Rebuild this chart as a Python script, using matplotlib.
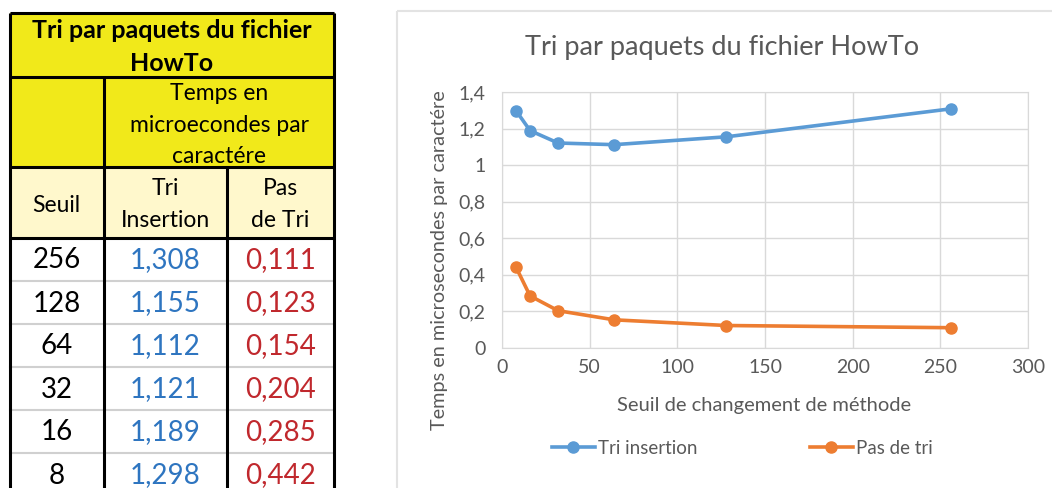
import matplotlib
matplotlib.use("Agg")
import matplotlib.pyplot as plt
from matplotlib.patches import Rectangle

plt.rcParams["font.family"] = ["Lato", "DejaVu Sans"]

# données du tableau (seuil, temps en µs par caractère)
seuils = [256, 128, 64, 32, 16, 8]
tri_insertion = [1.308, 1.155, 1.112, 1.121, 1.189, 1.298]
pas_de_tri = [0.111, 0.123, 0.154, 0.204, 0.285, 0.442]

titre = "Tri par paquets du fichier HowTo"
yticks = [0, 0.2, 0.4, 0.6, 0.8, 1.0, 1.2, 1.4]
xticks = [0, 50, 100, 150, 200, 250, 300]

bleu, orange = "#5B9BD5", "#ED7D31"
jaune, jaune_clair = "#F1E91A", "#FFF8CC"
gris_txt, gris_grille = "#595959", "#D9D9D9"


def fr(v, fmt="{:g}"):
    return fmt.format(v).replace(".", ",")


fig = plt.figure(figsize=(10.52, 4.88), dpi=100)

# ---- calque en pixels : tableau + cadre du graphique ----
bg = fig.add_axes([0, 0, 1, 1])
bg.set_xlim(0, 1052)
bg.set_ylim(488, 0)
bg.axis("off")

cx = [9.5, 104, 227, 334]
ry = [13, 77, 167, 238] + [238 + 43 * (i + 1) for i in range(6)]

bg.add_patch(Rectangle((cx[0], ry[0]), cx[3] - cx[0], ry[2] - ry[0], color=jaune, zorder=1))
bg.add_patch(Rectangle((cx[0], ry[2]), cx[3] - cx[0], ry[3] - ry[2], color=jaune_clair, zorder=1))

# séparateurs clairs entre les lignes de données
for y in ry[4:-1]:
    bg.plot([cx[0], cx[3]], [y, y], color="#D0D0D0", lw=1.5, zorder=2)
# traits noirs
noir = dict(color="black", lw=2.2, zorder=3, solid_capstyle="butt")
for y in ry[:4]:
    bg.plot([cx[0], cx[3]], [y, y], **noir)
bg.plot([cx[0], cx[0]], [ry[0], 500], **noir)
bg.plot([cx[3], cx[3]], [ry[0], 500], **noir)
bg.plot([cx[1], cx[1]], [ry[1], 500], **noir)
bg.plot([cx[2], cx[2]], [ry[2], 500], **noir)

mid = lambda a, b: (a + b) / 2
bg.text(mid(cx[0], cx[3]), mid(ry[0], ry[1]) + 2, "Tri par paquets du fichier\nHowTo",
        ha="center", va="center", fontsize=18, fontweight="bold", linespacing=1.5)
bg.text(mid(cx[1], cx[3]), mid(ry[1], ry[2]) + 3, "Temps en\nmicroecondes par\ncaractére",
        ha="center", va="center", fontsize=16.5, linespacing=1.6)
bg.text(mid(cx[0], cx[1]), mid(ry[2], ry[3]) + 3, "Seuil", ha="center", va="center", fontsize=16.5)
bg.text(mid(cx[1], cx[2]), mid(ry[2], ry[3]) + 2, "Tri\nInsertion", ha="center", va="center",
        fontsize=16.5, linespacing=1.6)
bg.text(mid(cx[2], cx[3]), mid(ry[2], ry[3]) + 2, "Pas\nde Tri", ha="center", va="center",
        fontsize=16.5, linespacing=1.6)

for i, (s, a, b) in enumerate(zip(seuils, tri_insertion, pas_de_tri)):
    yc = mid(ry[3 + i], ry[4 + i]) + 1
    bg.text(mid(cx[0], cx[1]), yc, str(s), ha="center", va="center", fontsize=20, color="black")
    bg.text(mid(cx[1], cx[2]), yc, fr(a, "{:.3f}"), ha="center", va="center", fontsize=20, color="#2E75C0")
    bg.text(mid(cx[2], cx[3]), yc, fr(b, "{:.3f}"), ha="center", va="center", fontsize=20, color="#C0282D")

# cadre du graphique
bg.add_patch(Rectangle((397, 11), 700, 500, fill=False, ec="#E3E3E3", lw=1.5, zorder=1))
bg.text(722, 48, titre, ha="center", va="center", fontsize=19.5, color=gris_txt)

# ---- graphique ----
ax = fig.add_axes([502 / 1052, (488 - 348) / 488, 526 / 1052, 256 / 488])
ax.plot(seuils, tri_insertion, color=bleu, lw=2.6, marker="o", ms=8, label="Tri insertion")
ax.plot(seuils, pas_de_tri, color=orange, lw=2.6, marker="o", ms=8, label="Pas de tri")
ax.set_xlim(0, 300)
ax.set_ylim(0, 1.4)
ax.set_xticks(xticks)
ax.set_yticks(yticks)
ax.set_xticklabels([fr(v) for v in xticks])
ax.set_yticklabels([fr(v) for v in yticks])
ax.grid(color=gris_grille, lw=1)
ax.set_axisbelow(True)
for s in ax.spines.values():
    s.set_color(gris_grille)
ax.tick_params(length=0, labelsize=14, colors=gris_txt)
ax.tick_params(axis="x", pad=8)
ax.tick_params(axis="y", pad=12)
ax.set_xlabel("Seuil de changement de méthode", fontsize=14.5, color=gris_txt, va="center")
ax.set_ylabel("Temps en microsecondes par caractére", fontsize=14.3, color=gris_txt, va="center")
ax.xaxis.set_label_coords((764 - 502) / 526, (348 - 405) / 256)
ax.yaxis.set_label_coords((440 - 502) / 526, (348 - 260) / 256)

ax.legend(loc="center", bbox_to_anchor=(742 / 1052, (488 - 448) / 488),
          bbox_transform=fig.transFigure, ncol=2, frameon=False, fontsize=13.5,
          handlelength=2.3, handletextpad=0.15, columnspacing=6.0, labelcolor=gris_txt)

fig.savefig("out.png", dpi=100)
